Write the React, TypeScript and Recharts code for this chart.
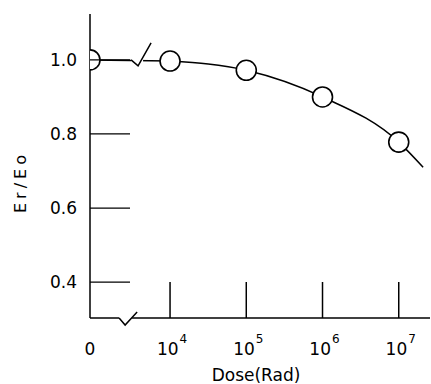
import React from 'react'
import {
  ComposedChart,
  Line,
  XAxis,
  YAxis,
  ReferenceLine,
  ReferenceDot,
} from 'recharts'

// dose axis is log-scaled with a break between 0 and 10^4
const ZERO_POS = 2.95
const X_MAX = 7.41
const Y_MIN = 0.303
const Y_MAX = 1.124

const doseTicks = [ZERO_POS, 4, 5, 6, 7]
const doseExponents = ['', '4', '5', '6', '7']
const ratioTicks = [0.4, 0.6, 0.8, 1.0]

// measured points (circles)
const measuredDose = [ZERO_POS, 4, 5, 6, 7]
const measuredRatio = [1.0, 0.997, 0.972, 0.9, 0.778]

// fitted curve beyond the break
const curveDose = [4, 5, 6, 7, 7.32]
const curveRatio = [0.997, 0.972, 0.9, 0.778, 0.71]

const measured = measuredDose.map((x, i) => ({ x, v: measuredRatio[i] }))
const flat = measured.slice(0, 2)
const curve = curveDose.map((x, i) => ({ x, v: curveRatio[i] }))

const FONT = '"DejaVu Sans", sans-serif'

function DoseTick({ x, y, payload }: any) {
  const idx = doseTicks.indexOf(payload.value)
  const exp = doseExponents[idx] ?? ''
  return (
    <g>
      {exp && <line x1={x} y1={y} x2={x} y2={y - 36} stroke="#000" strokeWidth={1.5} />}
      <text
        x={exp ? x + 2 : x}
        y={y + 37}
        textAnchor="middle"
        fontFamily={FONT}
        fontSize={17}
        fill="#000"
      >
        {exp ? '10' : '0'}
        {exp && (
          <tspan dx={1} dy={-12} fontSize={12}>
            {exp}
          </tspan>
        )}
      </text>
    </g>
  )
}

function RatioTick({ x, y, payload }: any) {
  return (
    <g>
      <line x1={x} y1={y} x2={x + 40} y2={y} stroke="#000" strokeWidth={1.3} />
      <text
        x={x - 13}
        y={y + 6}
        textAnchor="end"
        fontFamily={FONT}
        fontSize={17}
        fill="#000"
      >
        {payload.value.toFixed(1)}
      </text>
    </g>
  )
}

function Circle({ cx, cy }: any) {
  return <circle cx={cx} cy={cy} r={10} fill="#fff" stroke="#000" strokeWidth={1.6} />
}

function TopBreak({ cx, cy }: any) {
  return (
    <g>
      <rect x={cx - 10} y={cy - 3} width={12} height={6} fill="#fff" />
      <path
        d={`M${cx - 10},${cy} L${cx - 3},${cy + 6} L${cx + 10},${cy - 17}`}
        fill="none"
        stroke="#000"
        strokeWidth={1.5}
      />
    </g>
  )
}

function BottomBreak({ cx, cy }: any) {
  return (
    <g>
      <rect x={cx - 9} y={cy - 3} width={13} height={6} fill="#fff" />
      <path
        d={`M${cx - 9},${cy} L${cx - 3},${cy + 7} L${cx + 9},${cy - 6}`}
        fill="none"
        stroke="#000"
        strokeWidth={1.5}
      />
    </g>
  )
}

export default function App() {
  return (
    <div style={{ position: 'absolute', left: 0, top: 0, background: '#fff' }}>
      <ComposedChart
        width={431}
        height={384}
        margin={{ top: 14, right: 1, bottom: 0, left: 0 }}
      >
        <XAxis
          type="number"
          dataKey="x"
          domain={[ZERO_POS, X_MAX]}
          ticks={doseTicks}
          tick={<DoseTick />}
          tickLine={false}
          axisLine={false}
          tickSize={0}
          tickMargin={0}
          height={66}
          allowDataOverflow
        />
        <YAxis
          type="number"
          domain={[Y_MIN, Y_MAX]}
          ticks={ratioTicks}
          tick={<RatioTick />}
          tickLine={false}
          tickSize={0}
          tickMargin={0}
          width={90}
          axisLine={{ stroke: '#000', strokeWidth: 1.5 }}
          allowDataOverflow
        />
        <ReferenceLine y={Y_MIN} stroke="#000" strokeWidth={1.5} />
        <Line
          data={flat}
          dataKey="v"
          type="linear"
          stroke="#000"
          strokeWidth={1.5}
          dot={false}
          isAnimationActive={false}
        />
        <Line
          data={curve}
          dataKey="v"
          type="monotone"
          stroke="#000"
          strokeWidth={1.5}
          dot={false}
          isAnimationActive={false}
        />
        <ReferenceDot x={3.62} y={1.0} r={0} shape={<TopBreak />} />
        <ReferenceDot x={3.45} y={Y_MIN} r={0} shape={<BottomBreak />} />
        <Line
          data={measured}
          dataKey="v"
          stroke="none"
          dot={<Circle />}
          activeDot={false}
          isAnimationActive={false}
        />
        <text
          x={256}
          y={381}
          textAnchor="middle"
          fontFamily={FONT}
          fontSize={17}
          fill="#000"
        >
          Dose(Rad)
        </text>
        <text
          x={26}
          y={182}
          transform="rotate(-90 26 182)"
          textAnchor="middle"
          fontFamily={FONT}
          fontSize={16}
          letterSpacing={4}
          fill="#000"
        >
          Er/Eo
        </text>
      </ComposedChart>
    </div>
  )
}
